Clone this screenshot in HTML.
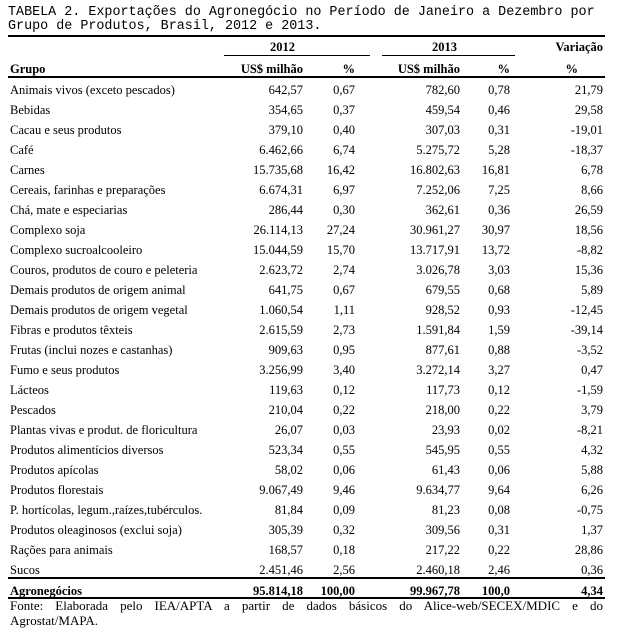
<!DOCTYPE html>
<html><head><meta charset="utf-8"><style>
body{margin:0;background:#fff;width:618px;height:643px;position:relative;overflow:hidden;font-family:"Liberation Serif",serif;font-size:12.5px;color:#000}
.t{position:absolute;left:8px;font-family:"Liberation Mono",monospace;font-size:13.4px;white-space:pre;line-height:14px}
.r{position:absolute;left:0;width:618px;height:16px;line-height:16px}
.r span{position:absolute;white-space:nowrap}
.g{left:10px}
.a{right:315px}.b{right:263px}.c{right:158px}.d{right:108px}.e{right:15px}
.h{position:absolute;background:#000;height:1px}
</style></head><body>
<div class="t" style="top:6px">TABELA 2. Exportações do Agronegócio no Período de Janeiro a Dezembro por</div>
<div class="t" style="top:20px">Grupo de Produtos, Brasil, 2012 e 2013.</div>
<div class="h" style="left:8px;width:597px;top:35px;height:1.5px"></div>
<div class="r" style="top:39px;font-weight:bold"><span style="left:270px">2012</span><span style="left:432px">2013</span><span class="e">Variação</span></div>
<div class="h" style="left:224px;width:146px;top:55px"></div>
<div class="h" style="left:382px;width:133px;top:55px"></div>
<div class="r" style="top:61px;font-weight:bold"><span class="g">Grupo</span><span class="a">US$ milhão</span><span class="b">%</span><span class="c">US$ milhão</span><span class="d">%</span><span class="e" style="right:40px">%</span></div>
<div class="h" style="left:8px;width:597px;top:76px;height:1.5px"></div>
<div class="r" style="top:82px"><span class="g">Animais vivos (exceto pescados)</span><span class="a">642,57</span><span class="b">0,67</span><span class="c">782,60</span><span class="d">0,78</span><span class="e">21,79</span></div>
<div class="r" style="top:102px"><span class="g">Bebidas</span><span class="a">354,65</span><span class="b">0,37</span><span class="c">459,54</span><span class="d">0,46</span><span class="e">29,58</span></div>
<div class="r" style="top:122px"><span class="g">Cacau e seus produtos</span><span class="a">379,10</span><span class="b">0,40</span><span class="c">307,03</span><span class="d">0,31</span><span class="e">-19,01</span></div>
<div class="r" style="top:142px"><span class="g">Café</span><span class="a">6.462,66</span><span class="b">6,74</span><span class="c">5.275,72</span><span class="d">5,28</span><span class="e">-18,37</span></div>
<div class="r" style="top:162px"><span class="g">Carnes</span><span class="a">15.735,68</span><span class="b">16,42</span><span class="c">16.802,63</span><span class="d">16,81</span><span class="e">6,78</span></div>
<div class="r" style="top:182px"><span class="g">Cereais, farinhas e preparações</span><span class="a">6.674,31</span><span class="b">6,97</span><span class="c">7.252,06</span><span class="d">7,25</span><span class="e">8,66</span></div>
<div class="r" style="top:202px"><span class="g">Chá, mate e especiarias</span><span class="a">286,44</span><span class="b">0,30</span><span class="c">362,61</span><span class="d">0,36</span><span class="e">26,59</span></div>
<div class="r" style="top:222px"><span class="g">Complexo soja</span><span class="a">26.114,13</span><span class="b">27,24</span><span class="c">30.961,27</span><span class="d">30,97</span><span class="e">18,56</span></div>
<div class="r" style="top:242px"><span class="g">Complexo sucroalcooleiro</span><span class="a">15.044,59</span><span class="b">15,70</span><span class="c">13.717,91</span><span class="d">13,72</span><span class="e">-8,82</span></div>
<div class="r" style="top:262px"><span class="g">Couros, produtos de couro e peleteria</span><span class="a">2.623,72</span><span class="b">2,74</span><span class="c">3.026,78</span><span class="d">3,03</span><span class="e">15,36</span></div>
<div class="r" style="top:282px"><span class="g">Demais produtos de origem animal</span><span class="a">641,75</span><span class="b">0,67</span><span class="c">679,55</span><span class="d">0,68</span><span class="e">5,89</span></div>
<div class="r" style="top:302px"><span class="g">Demais produtos de origem vegetal</span><span class="a">1.060,54</span><span class="b">1,11</span><span class="c">928,52</span><span class="d">0,93</span><span class="e">-12,45</span></div>
<div class="r" style="top:322px"><span class="g">Fibras e produtos têxteis</span><span class="a">2.615,59</span><span class="b">2,73</span><span class="c">1.591,84</span><span class="d">1,59</span><span class="e">-39,14</span></div>
<div class="r" style="top:342px"><span class="g">Frutas (inclui nozes e castanhas)</span><span class="a">909,63</span><span class="b">0,95</span><span class="c">877,61</span><span class="d">0,88</span><span class="e">-3,52</span></div>
<div class="r" style="top:362px"><span class="g">Fumo e seus produtos</span><span class="a">3.256,99</span><span class="b">3,40</span><span class="c">3.272,14</span><span class="d">3,27</span><span class="e">0,47</span></div>
<div class="r" style="top:382px"><span class="g">Lácteos</span><span class="a">119,63</span><span class="b">0,12</span><span class="c">117,73</span><span class="d">0,12</span><span class="e">-1,59</span></div>
<div class="r" style="top:402px"><span class="g">Pescados</span><span class="a">210,04</span><span class="b">0,22</span><span class="c">218,00</span><span class="d">0,22</span><span class="e">3,79</span></div>
<div class="r" style="top:422px"><span class="g">Plantas vivas e produt. de floricultura</span><span class="a">26,07</span><span class="b">0,03</span><span class="c">23,93</span><span class="d">0,02</span><span class="e">-8,21</span></div>
<div class="r" style="top:442px"><span class="g">Produtos alimentícios diversos</span><span class="a">523,34</span><span class="b">0,55</span><span class="c">545,95</span><span class="d">0,55</span><span class="e">4,32</span></div>
<div class="r" style="top:462px"><span class="g">Produtos apícolas</span><span class="a">58,02</span><span class="b">0,06</span><span class="c">61,43</span><span class="d">0,06</span><span class="e">5,88</span></div>
<div class="r" style="top:482px"><span class="g">Produtos florestais</span><span class="a">9.067,49</span><span class="b">9,46</span><span class="c">9.634,77</span><span class="d">9,64</span><span class="e">6,26</span></div>
<div class="r" style="top:502px"><span class="g">P. hortícolas, legum.,raízes,tubérculos.</span><span class="a">81,84</span><span class="b">0,09</span><span class="c">81,23</span><span class="d">0,08</span><span class="e">-0,75</span></div>
<div class="r" style="top:522px"><span class="g">Produtos oleaginosos (exclui soja)</span><span class="a">305,39</span><span class="b">0,32</span><span class="c">309,56</span><span class="d">0,31</span><span class="e">1,37</span></div>
<div class="r" style="top:542px"><span class="g">Rações para animais</span><span class="a">168,57</span><span class="b">0,18</span><span class="c">217,22</span><span class="d">0,22</span><span class="e">28,86</span></div>
<div class="r" style="top:562px"><span class="g">Sucos</span><span class="a">2.451,46</span><span class="b">2,56</span><span class="c">2.460,18</span><span class="d">2,46</span><span class="e">0,36</span></div>
<div class="h" style="left:8px;width:597px;top:577px;height:1.5px"></div>
<div class="r" style="top:583px;font-weight:bold"><span class="g">Agronegócios</span><span class="a">95.814,18</span><span class="b">100,00</span><span class="c">99.967,78</span><span class="d">100,0</span><span class="e">4,34</span></div>
<div class="h" style="left:8px;width:597px;top:597px;height:1.5px"></div>
<div style="position:absolute;left:10px;top:598px;width:593px;line-height:15px;font-size:13px;text-align:justify;text-align-last:justify">Fonte: Elaborada pelo IEA/APTA a partir de dados básicos do Alice-web/SECEX/MDIC e do</div>
<div style="position:absolute;left:10px;top:613px;width:593px;line-height:15px;font-size:13px">Agrostat/MAPA.</div>
</body></html>
